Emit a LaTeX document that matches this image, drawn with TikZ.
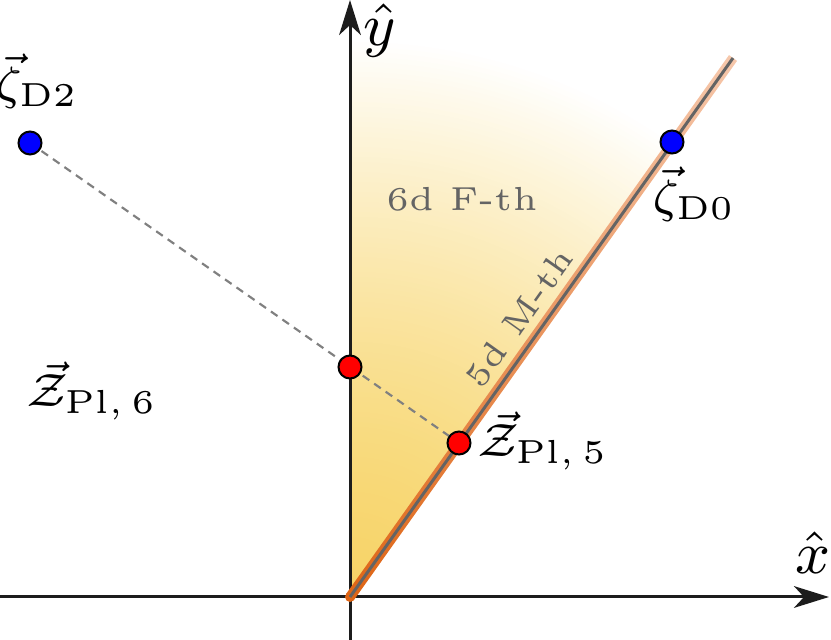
\documentclass[tikz,border=0pt]{standalone}
\usetikzlibrary{arrows.meta,calc}
\definecolor{wgold}{RGB}{247,212,104}
\definecolor{axisblack}{RGB}{28,28,28}
\definecolor{lgray}{RGB}{100,100,100}
\definecolor{dashgray}{RGB}{128,128,128}
\definecolor{dorange}{RGB}{222,100,20}
\definecolor{lpeach}{RGB}{246,200,172}
\definecolor{dblue}{RGB}{0,0,255}
\definecolor{dred}{RGB}{255,0,0}
\pgfdeclarelayer{bg}
\pgfsetlayers{bg,main}
\tikzset{
  dot/.style={circle, draw=black, line width=0.6pt, minimum size=6.9pt, inner sep=0pt},
  lab/.style={inner sep=0pt, scale=2, font=\fontsize{7}{8}\selectfont},
  axlab/.style={inner sep=0pt, scale=2, font=\fontsize{9}{10}\selectfont},
  regionlab/.style={inner sep=0pt, scale=2, text=lgray, font=\fontsize{5}{6}\selectfont},
  axisline/.style={axisblack, line width=0.9pt, -{Stealth[length=10.5pt,width=6.5pt,inset=3pt]}},
  dashline/.style={dashgray, line width=0.65pt, dash pattern=on 2.4pt off 1.8pt},
  mline/.style={lgray, line width=0.9pt}
}
\begin{document}
\begin{tikzpicture}[x=0.3pt,y=-0.3pt]
\useasboundingbox (0,0) rectangle (831,640);
% coordinates
\coordinate (O) at (350,597);
\coordinate (E) at (733,58);
\coordinate (xs) at (0,597);
\coordinate (xe) at (829,597);
\coordinate (ys) at (350,640);
\coordinate (ye) at (350,0);
% points
\node[dot, fill=dblue] (D2) at (30,143) {};
\node[dot, fill=dblue] (D0) at (672,142) {};
\node[dot, fill=dred] (P6) at (350,367) {};
\node[dot, fill=dred] (P5) at (459,443) {};
% labels
\node[lab] (lD2) at (37,81) {$\vec{\zeta}_{\mathrm{D2}}$};
\node[lab] (lD0) at (694,194) {$\vec{\zeta}_{\mathrm{D0}}$};
\node[lab] (lP5) at (543,441) {$\vec{\mathcal{Z}}_{\mathrm{Pl},\,5}$};
\node[lab] (lP6) at (92,391) {$\vec{\mathcal{Z}}_{\mathrm{Pl},\,6}$};
\node[axlab] (ly) at (380,31) {$\hat{y}$};
\node[axlab] (lx) at (813,553) {$\hat{x}$};
\node[regionlab] (F6) at (462,199) {6d F-th};
\node[regionlab, rotate=54.6] (M5) at (519,318) {5d M-th};
\begin{pgfonlayer}{bg}
  \begin{scope}
    \clip (O) -- (350,0) -- (774,0) -- cycle;
    \foreach \i in {0,...,139} {
      \pgfmathsetmacro{\rr}{700-5*\i}
      \pgfmathsetmacro{\pp}{100*(1-min(1,\rr/560)^1.5)}
      \fill[wgold!\pp!white] (O) circle (\rr);
    }
  \end{scope}
  \draw[axisline] (xs) -- (xe);
  \draw[axisline] (ys) -- (ye);
  \fill[dorange] (O) circle (5);
  \shade[bottom color=dorange, top color=lpeach]
    ($(O)+(-4,-2.9)$) -- ($(E)+(-4,-2.9)$) -- ($(E)+(4,2.9)$) -- ($(O)+(4,2.9)$) -- cycle;
  \draw[mline] (O) -- (E);
  \draw[dashline] (D2.center) -- (P5.center);
\end{pgfonlayer}
\end{tikzpicture}
\end{document}
